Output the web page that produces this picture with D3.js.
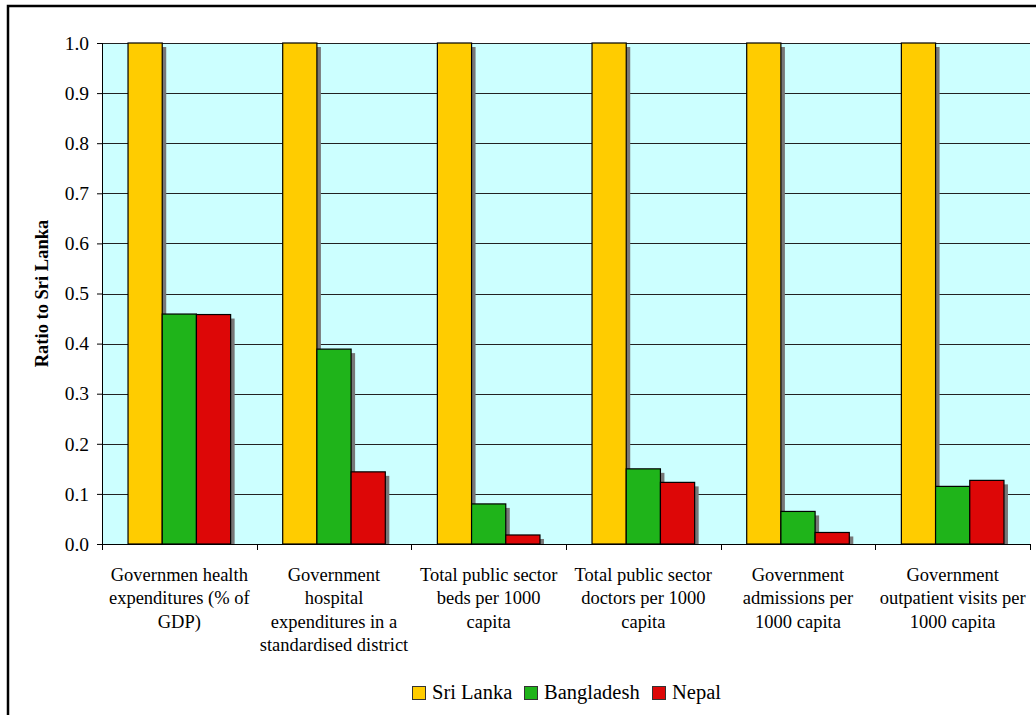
<!DOCTYPE html>
<html>
<head>
<meta charset="utf-8">
<script src="https://cdn.jsdelivr.net/npm/d3@7"></script>
<style>
  html, body { margin: 0; padding: 0; background: #fff; }
  svg { display: block; }
</style>
</head>
<body>
<svg id="chart" width="1036" height="715"></svg>
<script>
// Indicators compared against Sri Lanka (multi-line labels)
const categories = [
  ["Governmen health", "expenditures (% of", "GDP)"],
  ["Government", "hospital", "expenditures in a", "standardised district"],
  ["Total public sector", "beds per 1000", "capita"],
  ["Total public sector", "doctors per 1000", "capita"],
  ["Government", "admissions per", "1000 capita"],
  ["Government", "outpatient visits per", "1000 capita"]
];
const seriesNames = ["Sri Lanka", "Bangladesh", "Nepal"];
const sriLanka   = [1.0, 1.0, 1.0, 1.0, 1.0, 1.0];
const bangladesh = [0.459, 0.389, 0.080, 0.150, 0.065, 0.115];
const nepal      = [0.458, 0.144, 0.018, 0.123, 0.023, 0.127];
const seriesColors = ["#FFCC00", "#1FB41A", "#DD0707"];
const yTicks = [0, 0.1, 0.2, 0.3, 0.4, 0.5, 0.6, 0.7, 0.8, 0.9, 1.0];

const series = [sriLanka, bangladesh, nepal];
const FONT = "Liberation Serif";

const svg = d3.select("#chart").style("font-family", FONT);
const plot = { left: 102, top: 43, right: 1030, bottom: 544 };

// outer chart frame
svg.append("rect")
  .attr("x", 8).attr("y", 6).attr("width", 1050).attr("height", 730)
  .attr("fill", "#fff").attr("stroke", "#000").attr("stroke-width", 2.5);

const x0 = d3.scaleBand()
  .domain(d3.range(categories.length))
  .range([plot.left, plot.right])
  .paddingInner(0).paddingOuter(0);

const barW = 34.2;
const groupW = barW * series.length;

const y = d3.scaleLinear().domain([0, 1]).range([plot.bottom, plot.top]);

// plot background
svg.append("rect")
  .attr("x", plot.left).attr("y", plot.top)
  .attr("width", plot.right - plot.left).attr("height", plot.bottom - plot.top)
  .attr("fill", "#CCFFFF");

// gridlines
svg.append("g")
  .selectAll("line")
  .data(yTicks.filter(d => d > 0))
  .join("line")
  .attr("x1", plot.left).attr("x2", plot.right)
  .attr("y1", d => Math.round(y(d)) + 0.5).attr("y2", d => Math.round(y(d)) + 0.5)
  .attr("stroke", "#222").attr("stroke-width", 1);

// bars: shadows first, then bars
const barData = [];
series.forEach((vals, si) => {
  vals.forEach((v, ci) => {
    barData.push({ si, ci, v });
  });
});
const bx = d => x0(d.ci) + (x0.bandwidth() - groupW) / 2 + d.si * barW;

svg.append("defs").append("clipPath").attr("id", "plotClip")
  .append("rect")
  .attr("x", plot.left).attr("y", plot.top - 1)
  .attr("width", plot.right - plot.left).attr("height", plot.bottom - plot.top + 1);

const gBars = svg.append("g").attr("clip-path", "url(#plotClip)");

gBars.selectAll("rect.shadow")
  .data(barData)
  .join("rect")
  .attr("class", "shadow")
  .attr("x", d => bx(d) + 4)
  .attr("y", d => y(d.v) + 4)
  .attr("width", barW)
  .attr("height", d => y(0) - y(d.v))
  .attr("fill", "#777");

svg.append("g").selectAll("rect.bar")
  .data(barData)
  .join("rect")
  .attr("class", "bar")
  .attr("x", d => bx(d))
  .attr("y", d => y(d.v))
  .attr("width", barW)
  .attr("height", d => y(0) - y(d.v))
  .attr("fill", d => seriesColors[d.si])
  .attr("stroke", "#000").attr("stroke-width", 1.2);

// y axis
const yAxis = d3.axisLeft(y)
  .tickValues(yTicks)
  .tickFormat(d3.format(".1f"))
  .tickSize(5)
  .tickPadding(8);
const gy = svg.append("g").attr("transform", `translate(${plot.left},0)`).call(yAxis);
gy.attr("font-family", null).attr("font-size", null);
gy.select(".domain").attr("stroke", "#000").attr("d", `M0.5,${plot.top}V${plot.bottom}`);
gy.selectAll(".tick line").attr("stroke", "#000");
gy.selectAll(".tick text")
  .style("font-family", FONT).style("font-size", "19.5px")
  .attr("fill", "#000");

// x axis with boundary ticks
const gx = svg.append("g");
gx.append("line")
  .attr("x1", plot.left).attr("x2", plot.right)
  .attr("y1", plot.bottom + 0.5).attr("y2", plot.bottom + 0.5)
  .attr("stroke", "#000");
const boundaries = d3.range(categories.length + 1).map(i =>
  i < categories.length ? x0(i) : x0(categories.length - 1) + x0.bandwidth());
gx.selectAll("line.tk")
  .data(boundaries)
  .join("line")
  .attr("class", "tk")
  .attr("x1", d => Math.round(d) + 0.5).attr("x2", d => Math.round(d) + 0.5)
  .attr("y1", plot.bottom).attr("y2", plot.bottom + 6)
  .attr("stroke", "#000");

// category labels
const labelG = svg.append("g");
categories.forEach((lines, i) => {
  const t = labelG.append("text")
    .attr("x", x0(i) + x0.bandwidth() / 2)
    .attr("y", 581)
    .attr("text-anchor", "middle")
    .style("font-family", FONT).style("font-size", "18.5px");
  lines.forEach((ln, k) => {
    t.append("tspan")
      .attr("x", x0(i) + x0.bandwidth() / 2)
      .attr("dy", k === 0 ? 0 : 23.3)
      .text(ln);
  });
});

// y axis title
svg.append("text")
  .attr("transform", `translate(48,${(plot.top + plot.bottom) / 2}) rotate(-90)`)
  .attr("text-anchor", "middle")
  .style("font-family", FONT).style("font-size", "18.5px").style("font-weight", "bold")
  .text("Ratio to Sri Lanka");

// legend
const legend = svg.append("g");
const legendX = [412, 524, 652];
seriesNames.forEach((name, i) => {
  legend.append("rect")
    .attr("x", legendX[i] + 0.5).attr("y", 686.5)
    .attr("width", 13).attr("height", 13)
    .attr("fill", seriesColors[i]).attr("stroke", "#333").attr("stroke-width", 1);
  legend.append("text")
    .attr("x", legendX[i] + 20).attr("y", 699)
    .style("font-family", FONT).style("font-size", "20.5px")
    .text(name);
});
</script>
</body>
</html>
